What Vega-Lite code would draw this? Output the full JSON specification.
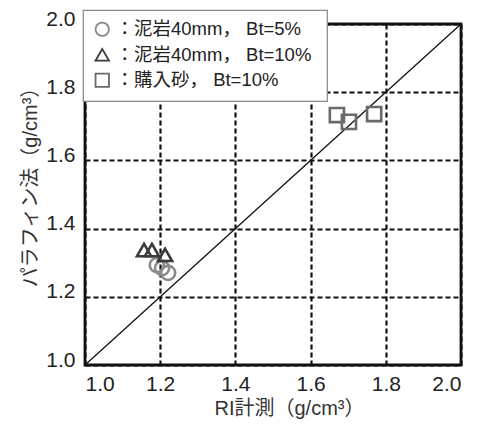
{
  "$schema": "https://vega.github.io/schema/vega-lite/v6.json",
  "width": 376,
  "height": 341,
  "autosize": {"type": "none"},
  "padding": {"left": 85, "top": 24, "right": 23, "bottom": 64},
  "background": "white",
  "config": {
    "font": "Liberation Sans, Noto Sans CJK JP, sans-serif",
    "view": {"stroke": "#111", "strokeWidth": 2.8},
    "axis": {
      "labelFont": "Liberation Sans, Noto Sans CJK JP, sans-serif",
      "titleFont": "Liberation Sans, Noto Sans CJK JP, sans-serif",
      "labelFontSize": 21,
      "titleFontSize": 20,
      "labelColor": "#222",
      "titleColor": "#333",
      "titleFontWeight": "normal",
      "domain": false,
      "ticks": false,
      "grid": true,
      "gridColor": "#111",
      "gridWidth": 2.2,
      "gridDash": [5, 3],
      "gridOpacity": 1
    },
    "legend": {
      "labelFont": "Liberation Sans, Noto Sans CJK JP, sans-serif",
      "labelFontSize": 18.5,
      "labelColor": "#222",
      "labelLimit": 0,
      "fillColor": "white",
      "strokeColor": "#888",
      "strokeWidth": 1.2,
      "padding": 10,
      "rowPadding": 4.5,
      "labelOffset": 4,
      "symbolSize": 180,
      "symbolStrokeWidth": 1.8,
      "cornerRadius": 0
    }
  },
  "datasets": {
    "pts": [
      {"rx": 1.191, "py": 1.293, "g": "泥岩40mm，  Bt=5%"},
      {"rx": 1.205, "py": 1.284, "g": "泥岩40mm，  Bt=5%"},
      {"rx": 1.221, "py": 1.270, "g": "泥岩40mm，  Bt=5%"},
      {"rx": 1.157, "py": 1.337, "g": "泥岩40mm，  Bt=10%"},
      {"rx": 1.178, "py": 1.337, "g": "泥岩40mm，  Bt=10%"},
      {"rx": 1.213, "py": 1.323, "g": "泥岩40mm，  Bt=10%"},
      {"rx": 1.670, "py": 1.733, "g": "購入砂，  Bt=10%"},
      {"rx": 1.702, "py": 1.713, "g": "購入砂，  Bt=10%"},
      {"rx": 1.769, "py": 1.736, "g": "購入砂，  Bt=10%"}
    ],
    "diag": [
      {"rx": 1.0, "py": 1.0},
      {"rx": 2.0, "py": 2.0}
    ]
  },
  "layer": [
    {
      "data": {"name": "diag"},
      "mark": {"type": "line", "color": "#111", "strokeWidth": 1.3},
      "encoding": {
        "x": {
          "field": "rx", "type": "quantitative",
          "scale": {"domain": [1, 2], "nice": false, "zero": false},
          "axis": {
            "values": [1, 1.2, 1.4, 1.6, 1.8, 2],
            "format": ".1f",
            "labelPadding": 8,
            "title": "RI計測（g/cm³）",
            "titlePadding": 4,
            "titleX": 204
          }
        },
        "y": {
          "field": "py", "type": "quantitative",
          "scale": {"domain": [1, 2], "nice": false, "zero": false},
          "axis": {
            "values": [1, 1.2, 1.4, 1.6, 1.8, 2],
            "format": ".1f",
            "labelPadding": 10,
            "labelOffset": -5,
            "title": "パラフィン法（g/cm³）",
            "titlePadding": 5,
            "titleY": 158
          }
        }
      }
    },
    {
      "data": {"name": "pts"},
      "mark": {"type": "point", "filled": false, "strokeWidth": 2.6, "size": 200, "opacity": 1},
      "encoding": {
        "x": {"field": "rx", "type": "quantitative"},
        "y": {"field": "py", "type": "quantitative"},
        "shape": {
          "field": "g", "type": "nominal",
          "scale": {
            "domain": ["泥岩40mm，  Bt=5%", "泥岩40mm，  Bt=10%", "購入砂，  Bt=10%"],
            "range": ["circle", "triangle-up", "square"]
          },
          "legend": {
            "title": null,
            "orient": "none",
            "legendX": -2,
            "legendY": -14,
            "labelExpr": "'：' + datum.label"
          }
        },
        "stroke": {
          "field": "g", "type": "nominal",
          "scale": {
            "domain": ["泥岩40mm，  Bt=5%", "泥岩40mm，  Bt=10%", "購入砂，  Bt=10%"],
            "range": ["#8a8a8a", "#3a3a3a", "#6a6a6a"]
          },
          "legend": {
            "title": null,
            "orient": "none",
            "legendX": -2,
            "legendY": -14,
            "labelExpr": "'：' + datum.label"
          }
        }
      }
    }
  ]
}
